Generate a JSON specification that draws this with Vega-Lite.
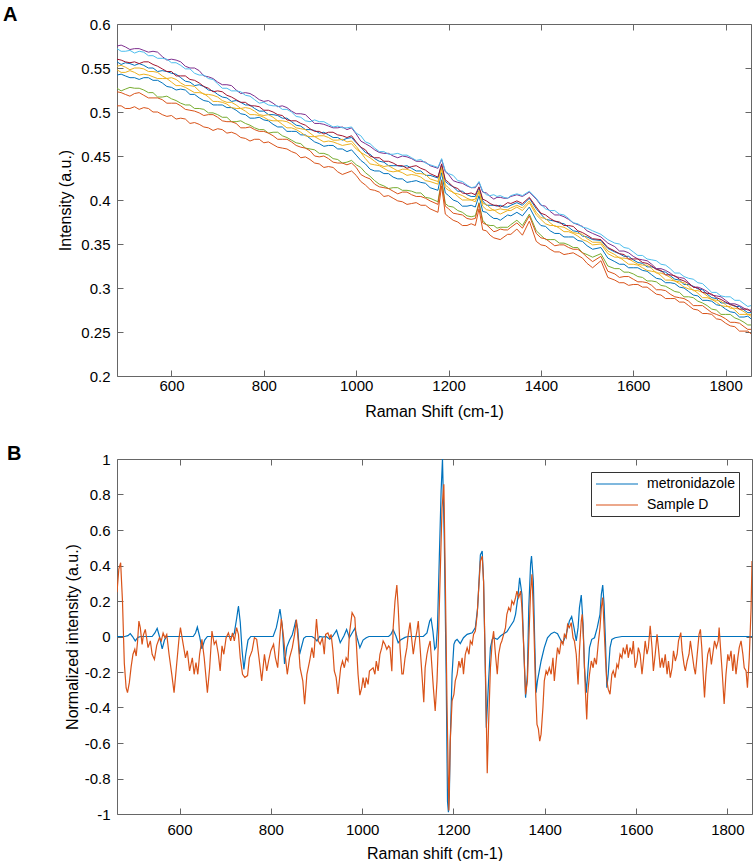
{
  "$schema": "https://vega.github.io/schema/vega-lite/v6.json",
  "padding": {"left": 3, "top": 5, "right": 0, "bottom": 0},
  "columns": 1,
  "align": "none",
  "spacing": 25,
  "resolve": {"scale": {"color": "independent"}, "legend": {"color": "independent"}},
  "config": {
    "view": {"stroke": null},
    "font": "Liberation Sans",
    "axis": {
      "grid": false,
      "domainColor": "#666666",
      "tickColor": "#666666",
      "domainWidth": 1,
      "tickWidth": 1,
      "tickSize": -6,
      "labelFont": "Liberation Sans",
      "titleFont": "Liberation Sans",
      "labelFontSize": 15,
      "titleFontSize": 16,
      "titleFontWeight": "normal",
      "labelColor": "#000000",
      "titleColor": "#000000",
      "labelOverlap": false,
      "labelFlush": false,
      "labelBound": false
    }
  },
  "datasets": {
    "a": [
      {"x":482,"p":0.575,"lb":0.572,"dr":0.560,"b1":0.557,"y1":0.552,"y2":0.548,"b2":0.542,"g":0.527,"o1":0.523,"o2":0.507},
      {"x":491,"p":0.576,"lb":0.569,"dr":0.559,"b1":0.554,"y1":0.553,"y2":0.545,"b2":0.543,"g":0.524,"o1":0.522,"o2":0.507},
      {"x":500,"p":0.574,"lb":0.569,"dr":0.557,"b1":0.556,"y1":0.551,"y2":0.545,"b2":0.541,"g":0.526,"o1":0.520,"o2":0.504},
      {"x":510,"p":0.571,"lb":0.570,"dr":0.556,"b1":0.555,"y1":0.548,"y2":0.547,"b2":0.539,"g":0.528,"o1":0.518,"o2":0.504},
      {"x":520,"p":0.572,"lb":0.567,"dr":0.557,"b1":0.553,"y1":0.550,"y2":0.545,"b2":0.539,"g":0.527,"o1":0.521,"o2":0.506},
      {"x":530,"p":0.572,"lb":0.569,"dr":0.555,"b1":0.555,"y1":0.550,"y2":0.542,"b2":0.537,"g":0.527,"o1":0.522,"o2":0.503},
      {"x":540,"p":0.570,"lb":0.568,"dr":0.557,"b1":0.553,"y1":0.549,"y2":0.543,"b2":0.539,"g":0.525,"o1":0.519,"o2":0.505},
      {"x":550,"p":0.568,"lb":0.564,"dr":0.557,"b1":0.550,"y1":0.546,"y2":0.542,"b2":0.539,"g":0.522,"o1":0.516,"o2":0.504},
      {"x":560,"p":0.569,"lb":0.564,"dr":0.554,"b1":0.550,"y1":0.546,"y2":0.540,"b2":0.536,"g":0.522,"o1":0.516,"o2":0.500},
      {"x":570,"p":0.568,"lb":0.561,"dr":0.552,"b1":0.546,"y1":0.545,"y2":0.538,"b2":0.536,"g":0.517,"o1":0.516,"o2":0.500},
      {"x":580,"p":0.563,"lb":0.561,"dr":0.549,"b1":0.547,"y1":0.541,"y2":0.538,"b2":0.533,"g":0.517,"o1":0.514,"o2":0.497},
      {"x":590,"p":0.559,"lb":0.560,"dr":0.546,"b1":0.546,"y1":0.538,"y2":0.538,"b2":0.529,"g":0.518,"o1":0.510,"o2":0.495},
      {"x":600,"p":0.560,"lb":0.556,"dr":0.546,"b1":0.544,"y1":0.539,"y2":0.534,"b2":0.528,"g":0.515,"o1":0.510,"o2":0.496},
      {"x":610,"p":0.559,"lb":0.556,"dr":0.541,"b1":0.543,"y1":0.537,"y2":0.530,"b2":0.525,"g":0.513,"o1":0.510,"o2":0.492},
      {"x":620,"p":0.557,"lb":0.553,"dr":0.541,"b1":0.539,"y1":0.533,"y2":0.530,"b2":0.526,"g":0.510,"o1":0.507,"o2":0.493},
      {"x":630,"p":0.552,"lb":0.549,"dr":0.541,"b1":0.535,"y1":0.530,"y2":0.528,"b2":0.525,"g":0.508,"o1":0.503,"o2":0.492},
      {"x":640,"p":0.550,"lb":0.549,"dr":0.537,"b1":0.534,"y1":0.530,"y2":0.525,"b2":0.520,"g":0.508,"o1":0.502,"o2":0.487},
      {"x":650,"p":0.550,"lb":0.544,"dr":0.536,"b1":0.530,"y1":0.529,"y2":0.522,"b2":0.520,"g":0.504,"o1":0.501,"o2":0.488},
      {"x":660,"p":0.547,"lb":0.542,"dr":0.533,"b1":0.531,"y1":0.524,"y2":0.522,"b2":0.516,"g":0.504,"o1":0.499,"o2":0.486},
      {"x":670,"p":0.541,"lb":0.542,"dr":0.529,"b1":0.529,"y1":0.520,"y2":0.521,"b2":0.513,"g":0.503,"o1":0.496,"o2":0.483},
      {"x":680,"p":0.540,"lb":0.538,"dr":0.527,"b1":0.525,"y1":0.520,"y2":0.517,"b2":0.512,"g":0.499,"o1":0.497,"o2":0.482},
      {"x":690,"p":0.538,"lb":0.537,"dr":0.523,"b1":0.524,"y1":0.519,"y2":0.512,"b2":0.508,"g":0.499,"o1":0.497,"o2":0.479},
      {"x":700,"p":0.534,"lb":0.532,"dr":0.524,"b1":0.520,"y1":0.517,"y2":0.512,"b2":0.508,"g":0.497,"o1":0.494,"o2":0.481},
      {"x":710,"p":0.531,"lb":0.527,"dr":0.523,"b1":0.517,"y1":0.513,"y2":0.511,"b2":0.508,"g":0.494,"o1":0.490,"o2":0.480},
      {"x":720,"p":0.531,"lb":0.527,"dr":0.519,"b1":0.516,"y1":0.511,"y2":0.509,"b2":0.505,"g":0.494,"o1":0.489,"o2":0.476},
      {"x":730,"p":0.530,"lb":0.524,"dr":0.517,"b1":0.512,"y1":0.511,"y2":0.505,"b2":0.505,"g":0.489,"o1":0.489,"o2":0.477},
      {"x":740,"p":0.525,"lb":0.524,"dr":0.514,"b1":0.513,"y1":0.508,"y2":0.504,"b2":0.502,"g":0.489,"o1":0.487,"o2":0.475},
      {"x":750,"p":0.521,"lb":0.523,"dr":0.511,"b1":0.511,"y1":0.504,"y2":0.504,"b2":0.498,"g":0.490,"o1":0.482,"o2":0.471},
      {"x":760,"p":0.522,"lb":0.519,"dr":0.511,"b1":0.508,"y1":0.505,"y2":0.501,"b2":0.497,"g":0.487,"o1":0.482,"o2":0.470},
      {"x":770,"p":0.521,"lb":0.518,"dr":0.507,"b1":0.508,"y1":0.504,"y2":0.497,"b2":0.493,"g":0.485,"o1":0.483,"o2":0.467},
      {"x":780,"p":0.518,"lb":0.514,"dr":0.507,"b1":0.504,"y1":0.501,"y2":0.497,"b2":0.493,"g":0.482,"o1":0.480,"o2":0.469},
      {"x":790,"p":0.514,"lb":0.510,"dr":0.506,"b1":0.501,"y1":0.497,"y2":0.496,"b2":0.494,"g":0.480,"o1":0.478,"o2":0.469},
      {"x":800,"p":0.512,"lb":0.511,"dr":0.502,"b1":0.501,"y1":0.496,"y2":0.494,"b2":0.491,"g":0.480,"o1":0.478,"o2":0.465},
      {"x":810,"p":0.513,"lb":0.508,"dr":0.502,"b1":0.497,"y1":0.497,"y2":0.491,"b2":0.490,"g":0.476,"o1":0.476,"o2":0.466},
      {"x":820,"p":0.510,"lb":0.507,"dr":0.500,"b1":0.497,"y1":0.494,"y2":0.490,"b2":0.486,"g":0.477,"o1":0.473,"o2":0.463},
      {"x":830,"p":0.506,"lb":0.507,"dr":0.497,"b1":0.496,"y1":0.490,"y2":0.490,"b2":0.483,"g":0.477,"o1":0.469,"o2":0.460},
      {"x":840,"p":0.507,"lb":0.503,"dr":0.496,"b1":0.493,"y1":0.490,"y2":0.486,"b2":0.483,"g":0.473,"o1":0.469,"o2":0.459},
      {"x":850,"p":0.505,"lb":0.503,"dr":0.491,"b1":0.493,"y1":0.489,"y2":0.482,"b2":0.478,"g":0.471,"o1":0.469,"o2":0.458},
      {"x":860,"p":0.501,"lb":0.500,"dr":0.490,"b1":0.489,"y1":0.486,"y2":0.482,"b2":0.478,"g":0.468,"o1":0.466,"o2":0.455},
      {"x":870,"p":0.498,"lb":0.495,"dr":0.490,"b1":0.485,"y1":0.482,"y2":0.480,"b2":0.478,"g":0.465,"o1":0.462,"o2":0.453},
      {"x":880,"p":0.498,"lb":0.494,"dr":0.487,"b1":0.484,"y1":0.481,"y2":0.477,"b2":0.474,"g":0.464,"o1":0.460,"o2":0.448},
      {"x":890,"p":0.497,"lb":0.490,"dr":0.485,"b1":0.480,"y1":0.480,"y2":0.473,"b2":0.474,"g":0.459,"o1":0.459,"o2":0.449},
      {"x":900,"p":0.492,"lb":0.489,"dr":0.481,"b1":0.480,"y1":0.476,"y2":0.472,"b2":0.470,"g":0.458,"o1":0.456,"o2":0.446},
      {"x":910,"p":0.487,"lb":0.491,"dr":0.478,"b1":0.479,"y1":0.472,"y2":0.472,"b2":0.466,"g":0.457,"o1":0.450,"o2":0.442},
      {"x":920,"p":0.487,"lb":0.489,"dr":0.478,"b1":0.476,"y1":0.473,"y2":0.469,"b2":0.464,"g":0.453,"o1":0.449,"o2":0.441},
      {"x":930,"p":0.486,"lb":0.489,"dr":0.475,"b1":0.477,"y1":0.473,"y2":0.466,"b2":0.461,"g":0.453,"o1":0.450,"o2":0.437},
      {"x":940,"p":0.484,"lb":0.486,"dr":0.477,"b1":0.474,"y1":0.471,"y2":0.467,"b2":0.462,"g":0.451,"o1":0.447,"o2":0.438},
      {"x":950,"p":0.482,"lb":0.483,"dr":0.477,"b1":0.471,"y1":0.468,"y2":0.466,"b2":0.462,"g":0.447,"o1":0.443,"o2":0.437},
      {"x":960,"p":0.482,"lb":0.484,"dr":0.474,"b1":0.471,"y1":0.468,"y2":0.464,"b2":0.458,"g":0.446,"o1":0.442,"o2":0.432},
      {"x":970,"p":0.483,"lb":0.482,"dr":0.473,"b1":0.468,"y1":0.469,"y2":0.462,"b2":0.458,"g":0.442,"o1":0.442,"o2":0.429},
      {"x":980,"p":0.480,"lb":0.482,"dr":0.471,"b1":0.470,"y1":0.466,"y2":0.463,"b2":0.455,"g":0.443,"o1":0.440,"o2":0.431},
      {"x":990,"p":0.482,"lb":0.483,"dr":0.473,"b1":0.471,"y1":0.467,"y2":0.464,"b2":0.457,"g":0.445,"o1":0.442,"o2":0.433},
      {"x":1000,"p":0.475,"lb":0.476,"dr":0.466,"b1":0.465,"y1":0.461,"y2":0.458,"b2":0.451,"g":0.440,"o1":0.437,"o2":0.428},
      {"x":1010,"p":0.467,"lb":0.473,"dr":0.460,"b1":0.460,"y1":0.454,"y2":0.454,"b2":0.445,"g":0.437,"o1":0.429,"o2":0.421},
      {"x":1020,"p":0.464,"lb":0.466,"dr":0.457,"b1":0.454,"y1":0.451,"y2":0.447,"b2":0.441,"g":0.431,"o1":0.426,"o2":0.417},
      {"x":1030,"p":0.461,"lb":0.464,"dr":0.450,"b1":0.452,"y1":0.448,"y2":0.441,"b2":0.435,"g":0.427,"o1":0.424,"o2":0.412},
      {"x":1040,"p":0.457,"lb":0.459,"dr":0.448,"b1":0.447,"y1":0.444,"y2":0.440,"b2":0.433,"g":0.422,"o1":0.418,"o2":0.411},
      {"x":1050,"p":0.454,"lb":0.455,"dr":0.448,"b1":0.444,"y1":0.440,"y2":0.439,"b2":0.433,"g":0.418,"o1":0.415,"o2":0.409},
      {"x":1060,"p":0.453,"lb":0.455,"dr":0.444,"b1":0.443,"y1":0.438,"y2":0.436,"b2":0.430,"g":0.416,"o1":0.414,"o2":0.404},
      {"x":1070,"p":0.453,"lb":0.452,"dr":0.444,"b1":0.439,"y1":0.439,"y2":0.433,"b2":0.430,"g":0.413,"o1":0.413,"o2":0.405},
      {"x":1080,"p":0.450,"lb":0.452,"dr":0.442,"b1":0.439,"y1":0.436,"y2":0.432,"b2":0.426,"g":0.414,"o1":0.410,"o2":0.402},
      {"x":1090,"p":0.448,"lb":0.453,"dr":0.439,"b1":0.439,"y1":0.433,"y2":0.433,"b2":0.424,"g":0.414,"o1":0.407,"o2":0.399},
      {"x":1100,"p":0.450,"lb":0.451,"dr":0.439,"b1":0.438,"y1":0.435,"y2":0.431,"b2":0.424,"g":0.411,"o1":0.409,"o2":0.398},
      {"x":1110,"p":0.449,"lb":0.451,"dr":0.436,"b1":0.439,"y1":0.435,"y2":0.428,"b2":0.420,"g":0.411,"o1":0.409,"o2":0.395},
      {"x":1120,"p":0.447,"lb":0.448,"dr":0.438,"b1":0.436,"y1":0.433,"y2":0.429,"b2":0.421,"g":0.410,"o1":0.406,"o2":0.396},
      {"x":1130,"p":0.444,"lb":0.445,"dr":0.439,"b1":0.433,"y1":0.430,"y2":0.428,"b2":0.422,"g":0.408,"o1":0.404,"o2":0.397},
      {"x":1140,"p":0.444,"lb":0.446,"dr":0.436,"b1":0.433,"y1":0.430,"y2":0.426,"b2":0.420,"g":0.408,"o1":0.404,"o2":0.394},
      {"x":1150,"p":0.443,"lb":0.442,"dr":0.434,"b1":0.428,"y1":0.429,"y2":0.422,"b2":0.419,"g":0.403,"o1":0.402,"o2":0.394},
      {"x":1160,"p":0.439,"lb":0.440,"dr":0.430,"b1":0.428,"y1":0.424,"y2":0.421,"b2":0.414,"g":0.402,"o1":0.399,"o2":0.390},
      {"x":1177,"p":0.436,"lb":0.437,"dr":0.426,"b1":0.425,"y1":0.421,"y2":0.418,"b2":0.411,"g":0.398,"o1":0.395,"o2":0.386},
      {"x":1185,"p":0.446,"lb":0.447,"dr":0.441,"b1":0.440,"y1":0.437,"y2":0.435,"b2":0.431,"g":0.423,"o1":0.422,"o2":0.416},
      {"x":1193,"p":0.432,"lb":0.433,"dr":0.423,"b1":0.421,"y1":0.417,"y2":0.414,"b2":0.408,"g":0.396,"o1":0.393,"o2":0.384},
      {"x":1200,"p":0.429,"lb":0.430,"dr":0.420,"b1":0.418,"y1":0.414,"y2":0.411,"b2":0.405,"g":0.393,"o1":0.390,"o2":0.381},
      {"x":1210,"p":0.422,"lb":0.428,"dr":0.415,"b1":0.415,"y1":0.408,"y2":0.409,"b2":0.400,"g":0.392,"o1":0.385,"o2":0.377},
      {"x":1220,"p":0.420,"lb":0.422,"dr":0.413,"b1":0.410,"y1":0.407,"y2":0.404,"b2":0.398,"g":0.388,"o1":0.384,"o2":0.375},
      {"x":1230,"p":0.419,"lb":0.421,"dr":0.408,"b1":0.410,"y1":0.405,"y2":0.400,"b2":0.393,"g":0.386,"o1":0.383,"o2":0.371},
      {"x":1240,"p":0.416,"lb":0.417,"dr":0.407,"b1":0.406,"y1":0.402,"y2":0.400,"b2":0.393,"g":0.382,"o1":0.379,"o2":0.371},
      {"x":1249,"p":0.414,"lb":0.414,"dr":0.408,"b1":0.404,"y1":0.400,"y2":0.400,"b2":0.394,"g":0.381,"o1":0.378,"o2":0.373},
      {"x":1258,"p":0.414,"lb":0.415,"dr":0.406,"b1":0.404,"y1":0.401,"y2":0.398,"b2":0.392,"g":0.382,"o1":0.379,"o2":0.371},
      {"x":1266,"p":0.420,"lb":0.421,"dr":0.415,"b1":0.414,"y1":0.411,"y2":0.409,"b2":0.405,"g":0.397,"o1":0.396,"o2":0.390},
      {"x":1274,"p":0.409,"lb":0.410,"dr":0.401,"b1":0.399,"y1":0.396,"y2":0.393,"b2":0.387,"g":0.377,"o1":0.374,"o2":0.366},
      {"x":1282,"p":0.408,"lb":0.406,"dr":0.399,"b1":0.394,"y1":0.395,"y2":0.389,"b2":0.386,"g":0.372,"o1":0.372,"o2":0.365},
      {"x":1290,"p":0.404,"lb":0.405,"dr":0.396,"b1":0.394,"y1":0.391,"y2":0.388,"b2":0.382,"g":0.371,"o1":0.368,"o2":0.360},
      {"x":1298,"p":0.401,"lb":0.406,"dr":0.394,"b1":0.394,"y1":0.388,"y2":0.389,"b2":0.379,"g":0.371,"o1":0.364,"o2":0.357},
      {"x":1305,"p":0.403,"lb":0.404,"dr":0.394,"b1":0.393,"y1":0.389,"y2":0.386,"b2":0.379,"g":0.368,"o1":0.365,"o2":0.356},
      {"x":1312,"p":0.403,"lb":0.405,"dr":0.392,"b1":0.394,"y1":0.390,"y2":0.384,"b2":0.377,"g":0.369,"o1":0.367,"o2":0.355},
      {"x":1320,"p":0.402,"lb":0.403,"dr":0.394,"b1":0.392,"y1":0.389,"y2":0.386,"b2":0.380,"g":0.369,"o1":0.366,"o2":0.358},
      {"x":1328,"p":0.402,"lb":0.402,"dr":0.397,"b1":0.392,"y1":0.389,"y2":0.388,"b2":0.383,"g":0.369,"o1":0.366,"o2":0.361},
      {"x":1335,"p":0.404,"lb":0.405,"dr":0.396,"b1":0.394,"y1":0.391,"y2":0.388,"b2":0.382,"g":0.372,"o1":0.369,"o2":0.361},
      {"x":1348,"p":0.406,"lb":0.407,"dr":0.399,"b1":0.397,"y1":0.394,"y2":0.392,"b2":0.386,"g":0.377,"o1":0.374,"o2":0.367},
      {"x":1360,"p":0.404,"lb":0.405,"dr":0.396,"b1":0.394,"y1":0.391,"y2":0.388,"b2":0.382,"g":0.371,"o1":0.368,"o2":0.360},
      {"x":1375,"p":0.409,"lb":0.410,"dr":0.403,"b1":0.402,"y1":0.399,"y2":0.397,"b2":0.392,"g":0.384,"o1":0.382,"o2":0.376},
      {"x":1390,"p":0.401,"lb":0.402,"dr":0.392,"b1":0.390,"y1":0.386,"y2":0.383,"b2":0.377,"g":0.365,"o1":0.362,"o2":0.353},
      {"x":1400,"p":0.394,"lb":0.395,"dr":0.385,"b1":0.384,"y1":0.380,"y2":0.378,"b2":0.371,"g":0.360,"o1":0.357,"o2":0.349},
      {"x":1410,"p":0.393,"lb":0.390,"dr":0.383,"b1":0.378,"y1":0.379,"y2":0.373,"b2":0.370,"g":0.355,"o1":0.356,"o2":0.348},
      {"x":1420,"p":0.387,"lb":0.388,"dr":0.379,"b1":0.377,"y1":0.374,"y2":0.371,"b2":0.365,"g":0.355,"o1":0.352,"o2":0.344},
      {"x":1430,"p":0.383,"lb":0.388,"dr":0.376,"b1":0.376,"y1":0.370,"y2":0.371,"b2":0.362,"g":0.355,"o1":0.348,"o2":0.341},
      {"x":1440,"p":0.383,"lb":0.384,"dr":0.375,"b1":0.374,"y1":0.370,"y2":0.368,"b2":0.362,"g":0.351,"o1":0.349,"o2":0.341},
      {"x":1450,"p":0.381,"lb":0.383,"dr":0.371,"b1":0.373,"y1":0.369,"y2":0.364,"b2":0.358,"g":0.351,"o1":0.349,"o2":0.338},
      {"x":1460,"p":0.378,"lb":0.379,"dr":0.371,"b1":0.369,"y1":0.366,"y2":0.364,"b2":0.358,"g":0.349,"o1":0.346,"o2":0.339},
      {"x":1470,"p":0.374,"lb":0.374,"dr":0.370,"b1":0.365,"y1":0.363,"y2":0.362,"b2":0.358,"g":0.346,"o1":0.344,"o2":0.340},
      {"x":1480,"p":0.372,"lb":0.373,"dr":0.365,"b1":0.364,"y1":0.362,"y2":0.359,"b2":0.354,"g":0.346,"o1":0.344,"o2":0.337},
      {"x":1490,"p":0.370,"lb":0.369,"dr":0.363,"b1":0.359,"y1":0.361,"y2":0.355,"b2":0.353,"g":0.340,"o1":0.340,"o2":0.334},
      {"x":1500,"p":0.365,"lb":0.368,"dr":0.360,"b1":0.358,"y1":0.356,"y2":0.353,"b2":0.348,"g":0.338,"o1":0.335,"o2":0.328},
      {"x":1512,"p":0.362,"lb":0.365,"dr":0.356,"b1":0.355,"y1":0.352,"y2":0.349,"b2":0.344,"g":0.335,"o1":0.330,"o2":0.323},
      {"x":1530,"p":0.358,"lb":0.361,"dr":0.355,"b1":0.354,"y1":0.352,"y2":0.350,"b2":0.346,"g":0.339,"o1":0.336,"o2":0.331},
      {"x":1545,"p":0.351,"lb":0.355,"dr":0.346,"b1":0.345,"y1":0.342,"y2":0.339,"b2":0.334,"g":0.325,"o1":0.319,"o2":0.312},
      {"x":1560,"p":0.347,"lb":0.351,"dr":0.342,"b1":0.341,"y1":0.338,"y2":0.335,"b2":0.330,"g":0.322,"o1":0.316,"o2":0.309},
      {"x":1570,"p":0.342,"lb":0.350,"dr":0.339,"b1":0.339,"y1":0.334,"y2":0.335,"b2":0.327,"g":0.322,"o1":0.312,"o2":0.306},
      {"x":1580,"p":0.342,"lb":0.346,"dr":0.338,"b1":0.336,"y1":0.334,"y2":0.331,"b2":0.327,"g":0.318,"o1":0.313,"o2":0.306},
      {"x":1590,"p":0.340,"lb":0.345,"dr":0.333,"b1":0.336,"y1":0.333,"y2":0.327,"b2":0.323,"g":0.318,"o1":0.313,"o2":0.303},
      {"x":1600,"p":0.336,"lb":0.341,"dr":0.333,"b1":0.332,"y1":0.330,"y2":0.327,"b2":0.323,"g":0.316,"o1":0.310,"o2":0.304},
      {"x":1610,"p":0.333,"lb":0.337,"dr":0.333,"b1":0.329,"y1":0.327,"y2":0.326,"b2":0.323,"g":0.313,"o1":0.307,"o2":0.304},
      {"x":1620,"p":0.332,"lb":0.337,"dr":0.329,"b1":0.328,"y1":0.326,"y2":0.323,"b2":0.320,"g":0.312,"o1":0.307,"o2":0.301},
      {"x":1630,"p":0.331,"lb":0.333,"dr":0.328,"b1":0.324,"y1":0.326,"y2":0.320,"b2":0.319,"g":0.308,"o1":0.306,"o2":0.301},
      {"x":1640,"p":0.327,"lb":0.332,"dr":0.325,"b1":0.324,"y1":0.322,"y2":0.319,"b2":0.315,"g":0.308,"o1":0.303,"o2":0.297},
      {"x":1650,"p":0.322,"lb":0.331,"dr":0.321,"b1":0.322,"y1":0.317,"y2":0.318,"b2":0.311,"g":0.307,"o1":0.298,"o2":0.293},
      {"x":1660,"p":0.322,"lb":0.327,"dr":0.320,"b1":0.319,"y1":0.317,"y2":0.314,"b2":0.310,"g":0.303,"o1":0.298,"o2":0.292},
      {"x":1670,"p":0.320,"lb":0.326,"dr":0.315,"b1":0.318,"y1":0.315,"y2":0.309,"b2":0.306,"g":0.302,"o1":0.297,"o2":0.288},
      {"x":1680,"p":0.317,"lb":0.322,"dr":0.315,"b1":0.314,"y1":0.312,"y2":0.309,"b2":0.306,"g":0.299,"o1":0.293,"o2":0.288},
      {"x":1690,"p":0.313,"lb":0.317,"dr":0.314,"b1":0.310,"y1":0.308,"y2":0.308,"b2":0.305,"g":0.296,"o1":0.290,"o2":0.288},
      {"x":1700,"p":0.312,"lb":0.317,"dr":0.310,"b1":0.309,"y1":0.307,"y2":0.305,"b2":0.301,"g":0.295,"o1":0.289,"o2":0.284},
      {"x":1710,"p":0.311,"lb":0.313,"dr":0.308,"b1":0.304,"y1":0.306,"y2":0.301,"b2":0.300,"g":0.290,"o1":0.288,"o2":0.284},
      {"x":1720,"p":0.306,"lb":0.311,"dr":0.305,"b1":0.304,"y1":0.302,"y2":0.299,"b2":0.296,"g":0.290,"o1":0.285,"o2":0.280},
      {"x":1730,"p":0.301,"lb":0.310,"dr":0.301,"b1":0.302,"y1":0.297,"y2":0.298,"b2":0.292,"g":0.289,"o1":0.280,"o2":0.276},
      {"x":1740,"p":0.301,"lb":0.306,"dr":0.300,"b1":0.299,"y1":0.297,"y2":0.294,"b2":0.291,"g":0.285,"o1":0.280,"o2":0.275},
      {"x":1750,"p":0.299,"lb":0.305,"dr":0.295,"b1":0.298,"y1":0.295,"y2":0.289,"b2":0.286,"g":0.283,"o1":0.280,"o2":0.271},
      {"x":1760,"p":0.296,"lb":0.300,"dr":0.294,"b1":0.293,"y1":0.291,"y2":0.289,"b2":0.286,"g":0.280,"o1":0.276,"o2":0.271},
      {"x":1770,"p":0.292,"lb":0.295,"dr":0.293,"b1":0.289,"y1":0.287,"y2":0.287,"b2":0.285,"g":0.276,"o1":0.272,"o2":0.270},
      {"x":1780,"p":0.291,"lb":0.295,"dr":0.289,"b1":0.288,"y1":0.286,"y2":0.284,"b2":0.281,"g":0.275,"o1":0.270,"o2":0.265},
      {"x":1790,"p":0.290,"lb":0.291,"dr":0.287,"b1":0.283,"y1":0.285,"y2":0.280,"b2":0.280,"g":0.270,"o1":0.268,"o2":0.264},
      {"x":1800,"p":0.286,"lb":0.290,"dr":0.284,"b1":0.283,"y1":0.281,"y2":0.279,"b2":0.276,"g":0.270,"o1":0.265,"o2":0.260},
      {"x":1810,"p":0.282,"lb":0.290,"dr":0.281,"b1":0.282,"y1":0.277,"y2":0.279,"b2":0.273,"g":0.270,"o1":0.261,"o2":0.257},
      {"x":1820,"p":0.282,"lb":0.286,"dr":0.280,"b1":0.279,"y1":0.277,"y2":0.275,"b2":0.272,"g":0.266,"o1":0.261,"o2":0.256},
      {"x":1830,"p":0.280,"lb":0.286,"dr":0.276,"b1":0.279,"y1":0.276,"y2":0.270,"b2":0.267,"g":0.264,"o1":0.260,"o2":0.251},
      {"x":1840,"p":0.277,"lb":0.282,"dr":0.276,"b1":0.275,"y1":0.273,"y2":0.270,"b2":0.267,"g":0.261,"o1":0.256,"o2":0.251},
      {"x":1848,"p":0.275,"lb":0.279,"dr":0.276,"b1":0.272,"y1":0.270,"y2":0.270,"b2":0.268,"g":0.258,"o1":0.253,"o2":0.251},
      {"x":1855,"p":0.275,"lb":0.280,"dr":0.273,"b1":0.272,"y1":0.270,"y2":0.268,"b2":0.265,"g":0.258,"o1":0.253,"o2":0.248}
    ],
    "metro": [
      {"x":463,"y":0},{"x":480,"y":0},{"x":487,"y":0.005},{"x":492,"y":0.016},{"x":497,"y":0},{"x":503,"y":-0.025},{"x":509,"y":-0.005},{"x":515,"y":0},
      {"x":540,"y":0},{"x":546,"y":0.02},{"x":551,"y":0.046},{"x":556,"y":0},{"x":562,"y":-0.07},{"x":567,"y":-0.02},{"x":572,"y":0},
      {"x":630,"y":0},{"x":635,"y":0.02},{"x":639,"y":0.053},{"x":644,"y":0},{"x":649,"y":-0.07},{"x":655,"y":-0.02},{"x":661,"y":0},
      {"x":715,"y":0},{"x":720,"y":0.02},{"x":725,"y":0.1},{"x":729,"y":0.172},{"x":733,"y":0.08},{"x":737,"y":-0.08},{"x":741,"y":-0.185},{"x":745,"y":-0.1},{"x":750,"y":-0.02},{"x":756,"y":0},
      {"x":805,"y":0},{"x":812,"y":0.05},{"x":816,"y":0.1},{"x":820,"y":0.155},{"x":825,"y":0.06},{"x":830,"y":-0.155},{"x":835,"y":-0.06},{"x":841,"y":-0.02},{"x":847,"y":0.01},{"x":851,"y":0.05},{"x":855,"y":0.093},{"x":859,"y":0.04},{"x":863,"y":-0.1},{"x":867,"y":-0.06},{"x":872,"y":-0.01},{"x":877,"y":0},
      {"x":890,"y":0},{"x":896,"y":-0.01},{"x":901,"y":-0.025},{"x":907,"y":0},{"x":914,"y":-0.003},{"x":921,"y":0},{"x":929,"y":-0.015},{"x":936,"y":0.003},{"x":944,"y":0.035},{"x":952,"y":-0.035},{"x":960,"y":0.003},{"x":966,"y":0.04},{"x":972,"y":-0.007},{"x":978,"y":0.02},{"x":984,"y":0.046},{"x":989,"y":-0.007},{"x":995,"y":-0.063},{"x":1002,"y":-0.02},{"x":1009,"y":-0.007},{"x":1015,"y":0},
      {"x":1058,"y":0},{"x":1063,"y":0.012},{"x":1068,"y":0.038},{"x":1074,"y":0.003},{"x":1079,"y":-0.035},{"x":1084,"y":-0.02},{"x":1094,"y":-0.005},{"x":1100,"y":0},
      {"x":1134,"y":0},{"x":1142,"y":0.02},{"x":1148,"y":0.087},{"x":1151,"y":0.1},{"x":1155,"y":0.03},{"x":1159,"y":-0.072},{"x":1162,"y":-0.06},{"x":1165,"y":0.05},{"x":1169,"y":0.44},{"x":1173,"y":0.82},{"x":1176,"y":1.0},{"x":1180,"y":0.54},{"x":1184,"y":-0.21},{"x":1187,"y":-0.93},{"x":1189,"y":-0.99},{"x":1191,"y":-0.9},{"x":1193,"y":-0.59},{"x":1197,"y":-0.213},{"x":1201,"y":-0.044},{"x":1204,"y":-0.025},{"x":1208,"y":-0.016},{"x":1215,"y":-0.04},{"x":1222,"y":-0.007},{"x":1230,"y":0.012},{"x":1241,"y":0.021},{"x":1248,"y":0.05},{"x":1253,"y":0.162},{"x":1259,"y":0.46},{"x":1263,"y":0.482},{"x":1266,"y":0.31},{"x":1270,"y":-0.21},{"x":1272,"y":-0.514},{"x":1277,"y":-0.25},{"x":1281,"y":-0.063},{"x":1285,"y":-0.016},{"x":1288,"y":-0.007},{"x":1296,"y":-0.016},{"x":1303,"y":0.003},{"x":1310,"y":0.016},{"x":1317,"y":0.027},{"x":1325,"y":0.059},{"x":1332,"y":0.087},{"x":1336,"y":0.125},{"x":1341,"y":0.219},{"x":1345,"y":0.331},{"x":1350,"y":0.238},{"x":1354,"y":-0.063},{"x":1358,"y":-0.345},{"x":1362,"y":-0.213},{"x":1365,"y":0.163},{"x":1369,"y":0.407},{"x":1371,"y":0.453},{"x":1375,"y":0.313},{"x":1378,"y":-0.025},{"x":1381,"y":-0.316},{"x":1384,"y":-0.25},{"x":1392,"y":-0.138},{"x":1399,"y":-0.063},{"x":1406,"y":-0.007},{"x":1414,"y":0.016},{"x":1421,"y":0.025},{"x":1428,"y":0.016},{"x":1436,"y":-0.025},{"x":1440,"y":-0.035},{"x":1447,"y":0.012},{"x":1454,"y":0.087},{"x":1459,"y":0.112},{"x":1464,"y":0.05},{"x":1469,"y":-0.025},{"x":1473,"y":0.05},{"x":1476,"y":0.163},{"x":1480,"y":0.234},{"x":1484,"y":0.069},{"x":1487,"y":-0.176},{"x":1491,"y":-0.316},{"x":1494,"y":-0.213},{"x":1498,"y":-0.063},{"x":1503,"y":-0.016},{"x":1509,"y":-0.007},{"x":1515,"y":0.05},{"x":1521,"y":0.125},{"x":1524,"y":0.238},{"x":1527,"y":0.29},{"x":1530,"y":0.181},{"x":1533,"y":-0.025},{"x":1536,"y":-0.288},{"x":1539,"y":-0.213},{"x":1543,"y":-0.063},{"x":1547,"y":-0.016},{"x":1554,"y":-0.007},{"x":1569,"y":0},{"x":1854,"y":0}
    ],
    "sampled": [
      {"x":463,"y":0.25},{"x":467,"y":0.38},{"x":471,"y":0.416},{"x":475,"y":0.2},{"x":479,"y":-0.15},{"x":483,"y":-0.29},{"x":486,"y":-0.316},{"x":490,"y":-0.26},{"x":494,"y":-0.17},{"x":498,"y":-0.1},{"x":502,"y":-0.072},{"x":505,"y":-0.11},{"x":508,"y":-0.03},{"x":511,"y":0.087},{"x":514,"y":0.05},{"x":518,"y":-0.044},{"x":521,"y":0.01},{"x":525,"y":0.04},{"x":528,"y":-0.01},{"x":531,"y":-0.063},{"x":536,"y":-0.025},{"x":540,"y":-0.1},{"x":545,"y":-0.129},{"x":550,"y":-0.05},{"x":556,"y":-0.007},{"x":560,"y":-0.025},{"x":564,"y":0.02},{"x":568,"y":-0.007},{"x":572,"y":0.012},{"x":577,"y":-0.1},{"x":583,"y":-0.213},{"x":588,"y":-0.316},{"x":593,"y":-0.176},{"x":599,"y":-0.007},{"x":602,"y":0.05},{"x":608,"y":-0.044},{"x":613,"y":-0.12},{"x":617,"y":-0.08},{"x":622,"y":-0.194},{"x":628,"y":-0.12},{"x":632,"y":-0.213},{"x":636,"y":-0.147},{"x":640,"y":-0.213},{"x":644,"y":-0.1},{"x":649,"y":-0.016},{"x":654,"y":-0.12},{"x":661,"y":-0.316},{"x":666,"y":-0.176},{"x":671,"y":0.031},{"x":676,"y":-0.044},{"x":680,"y":-0.025},{"x":685,"y":-0.1},{"x":689,"y":-0.194},{"x":693,"y":-0.053},{"x":697,"y":-0.1},{"x":702,"y":-0.007},{"x":707,"y":0.02},{"x":712,"y":-0.025},{"x":716,"y":0.02},{"x":720,"y":-0.025},{"x":725,"y":0.05},{"x":729,"y":0.012},{"x":733,"y":-0.12},{"x":738,"y":-0.213},{"x":743,"y":-0.23},{"x":749,"y":-0.22},{"x":753,"y":-0.12},{"x":759,"y":-0.08},{"x":764,"y":-0.007},{"x":769,"y":-0.016},{"x":774,"y":-0.12},{"x":780,"y":-0.25},{"x":786,"y":-0.1},{"x":791,"y":-0.194},{"x":795,"y":-0.138},{"x":800,"y":-0.08},{"x":806,"y":-0.044},{"x":810,"y":-0.12},{"x":815,"y":-0.176},{"x":819,"y":-0.025},{"x":823,"y":0.1},{"x":828,"y":-0.007},{"x":832,"y":-0.119},{"x":836,"y":-0.213},{"x":841,"y":-0.12},{"x":847,"y":-0.063},{"x":852,"y":0.012},{"x":856,"y":0.095},{"x":860,"y":-0.025},{"x":864,"y":-0.176},{"x":870,"y":-0.25},{"x":874,"y":-0.382},{"x":879,"y":-0.213},{"x":885,"y":-0.138},{"x":890,"y":-0.063},{"x":894,"y":-0.12},{"x":900,"y":0.099},{"x":904,"y":-0.025},{"x":908,"y":-0.044},{"x":913,"y":-0.007},{"x":917,"y":-0.1},{"x":920,"y":0.012},{"x":925,"y":0.02},{"x":929,"y":-0.007},{"x":932,"y":0.012},{"x":936,"y":-0.08},{"x":939,"y":-0.194},{"x":943,"y":-0.23},{"x":947,"y":-0.324},{"x":953,"y":-0.176},{"x":957,"y":-0.138},{"x":961,"y":-0.176},{"x":965,"y":-0.12},{"x":969,"y":-0.138},{"x":972,"y":0.012},{"x":978,"y":0.134},{"x":984,"y":0.106},{"x":987,"y":-0.025},{"x":991,"y":-0.213},{"x":995,"y":-0.33},{"x":999,"y":-0.29},{"x":1002,"y":-0.232},{"x":1006,"y":-0.29},{"x":1009,"y":-0.232},{"x":1013,"y":-0.27},{"x":1016,"y":-0.194},{"x":1024,"y":-0.176},{"x":1028,"y":-0.213},{"x":1031,"y":-0.138},{"x":1035,"y":-0.194},{"x":1039,"y":-0.1},{"x":1043,"y":-0.063},{"x":1046,"y":-0.025},{"x":1050,"y":-0.044},{"x":1054,"y":-0.072},{"x":1058,"y":-0.053},{"x":1061,"y":-0.063},{"x":1065,"y":-0.195},{"x":1068,"y":0.05},{"x":1072,"y":0.2},{"x":1076,"y":0.29},{"x":1079,"y":0.163},{"x":1083,"y":-0.063},{"x":1087,"y":-0.21},{"x":1090,"y":-0.21},{"x":1094,"y":-0.12},{"x":1098,"y":-0.063},{"x":1101,"y":0.012},{"x":1105,"y":0.078},{"x":1109,"y":-0.025},{"x":1112,"y":-0.1},{"x":1116,"y":-0.025},{"x":1120,"y":0.031},{"x":1123,"y":0.087},{"x":1127,"y":-0.063},{"x":1131,"y":-0.213},{"x":1135,"y":-0.37},{"x":1138,"y":-0.176},{"x":1142,"y":-0.1},{"x":1145,"y":-0.063},{"x":1149,"y":-0.025},{"x":1153,"y":-0.176},{"x":1156,"y":-0.288},{"x":1160,"y":-0.42},{"x":1164,"y":-0.25},{"x":1167,"y":-0.025},{"x":1171,"y":0.35},{"x":1175,"y":0.725},{"x":1179,"y":0.857},{"x":1182,"y":0.35},{"x":1186,"y":-0.4},{"x":1190,"y":-0.98},{"x":1193,"y":-0.59},{"x":1197,"y":-0.363},{"x":1201,"y":-0.326},{"x":1204,"y":-0.25},{"x":1208,"y":-0.213},{"x":1212,"y":-0.138},{"x":1215,"y":-0.176},{"x":1219,"y":-0.12},{"x":1222,"y":-0.213},{"x":1226,"y":-0.1},{"x":1230,"y":-0.063},{"x":1234,"y":-0.1},{"x":1237,"y":-0.025},{"x":1241,"y":-0.044},{"x":1244,"y":0.012},{"x":1248,"y":0.031},{"x":1252,"y":0.125},{"x":1255,"y":0.256},{"x":1259,"y":0.425},{"x":1263,"y":0.453},{"x":1266,"y":0.31},{"x":1268,"y":0.069},{"x":1271,"y":-0.307},{"x":1274,"y":-0.77},{"x":1277,"y":-0.495},{"x":1281,"y":-0.176},{"x":1285,"y":-0.025},{"x":1288,"y":0.03},{"x":1292,"y":-0.1},{"x":1296,"y":-0.213},{"x":1299,"y":-0.1},{"x":1303,"y":-0.044},{"x":1306,"y":-0.025},{"x":1310,"y":0.012},{"x":1314,"y":0.05},{"x":1317,"y":0.125},{"x":1321,"y":0.163},{"x":1325,"y":0.144},{"x":1328,"y":0.2},{"x":1332,"y":0.181},{"x":1336,"y":0.219},{"x":1339,"y":0.256},{"x":1343,"y":0.219},{"x":1347,"y":0.256},{"x":1350,"y":0.163},{"x":1354,"y":-0.063},{"x":1358,"y":-0.326},{"x":1362,"y":-0.25},{"x":1365,"y":-0.025},{"x":1369,"y":0.256},{"x":1372,"y":0.35},{"x":1376,"y":0.069},{"x":1380,"y":-0.307},{"x":1383,"y":-0.495},{"x":1386,"y":-0.52},{"x":1389,"y":-0.59},{"x":1392,"y":-0.55},{"x":1396,"y":-0.4},{"x":1399,"y":-0.25},{"x":1403,"y":-0.194},{"x":1406,"y":-0.213},{"x":1410,"y":-0.176},{"x":1414,"y":-0.213},{"x":1418,"y":-0.12},{"x":1421,"y":-0.25},{"x":1425,"y":-0.138},{"x":1428,"y":-0.063},{"x":1432,"y":-0.1},{"x":1436,"y":-0.025},{"x":1440,"y":-0.044},{"x":1443,"y":0.012},{"x":1447,"y":-0.007},{"x":1450,"y":0.068},{"x":1454,"y":0.05},{"x":1458,"y":0.078},{"x":1462,"y":-0.007},{"x":1465,"y":-0.025},{"x":1469,"y":-0.1},{"x":1473,"y":-0.27},{"x":1476,"y":-0.08},{"x":1480,"y":0.087},{"x":1482,"y":0.125},{"x":1485,"y":-0.025},{"x":1489,"y":-0.307},{"x":1492,"y":-0.467},{"x":1494,"y":-0.325},{"x":1498,"y":-0.213},{"x":1502,"y":-0.138},{"x":1506,"y":-0.176},{"x":1509,"y":-0.12},{"x":1513,"y":-0.157},{"x":1517,"y":-0.044},{"x":1521,"y":0.05},{"x":1524,"y":0.163},{"x":1527,"y":0.219},{"x":1530,"y":0.05},{"x":1533,"y":-0.12},{"x":1536,"y":-0.25},{"x":1539,"y":-0.297},{"x":1543,"y":-0.325},{"x":1547,"y":-0.213},{"x":1550,"y":-0.194},{"x":1554,"y":-0.232},{"x":1558,"y":-0.157},{"x":1561,"y":-0.176},{"x":1565,"y":-0.1},{"x":1569,"y":-0.12},{"x":1572,"y":-0.063},{"x":1576,"y":-0.1},{"x":1580,"y":-0.044},{"x":1583,"y":-0.12},{"x":1587,"y":-0.063},{"x":1591,"y":-0.1},{"x":1594,"y":-0.025},{"x":1598,"y":-0.176},{"x":1602,"y":-0.138},{"x":1605,"y":-0.063},{"x":1609,"y":-0.1},{"x":1613,"y":-0.213},{"x":1616,"y":-0.138},{"x":1620,"y":-0.025},{"x":1624,"y":-0.1},{"x":1627,"y":-0.063},{"x":1631,"y":0.06},{"x":1635,"y":-0.063},{"x":1638,"y":-0.194},{"x":1642,"y":-0.1},{"x":1646,"y":0.012},{"x":1649,"y":-0.063},{"x":1653,"y":-0.176},{"x":1657,"y":-0.12},{"x":1660,"y":-0.176},{"x":1664,"y":-0.1},{"x":1668,"y":-0.213},{"x":1671,"y":-0.138},{"x":1675,"y":-0.232},{"x":1679,"y":-0.176},{"x":1682,"y":-0.081},{"x":1686,"y":-0.138},{"x":1690,"y":-0.1},{"x":1693,"y":-0.025},{"x":1698,"y":0.022},{"x":1701,"y":-0.081},{"x":1705,"y":-0.157},{"x":1708,"y":-0.194},{"x":1712,"y":-0.138},{"x":1716,"y":-0.1},{"x":1719,"y":-0.025},{"x":1723,"y":-0.1},{"x":1727,"y":-0.176},{"x":1730,"y":-0.213},{"x":1734,"y":-0.1},{"x":1738,"y":0.012},{"x":1741,"y":0.04},{"x":1744,"y":-0.063},{"x":1747,"y":-0.213},{"x":1750,"y":-0.344},{"x":1753,"y":-0.213},{"x":1757,"y":-0.1},{"x":1761,"y":-0.063},{"x":1765,"y":-0.157},{"x":1768,"y":-0.1},{"x":1772,"y":-0.025},{"x":1776,"y":-0.063},{"x":1780,"y":-0.025},{"x":1782,"y":0.05},{"x":1785,"y":-0.063},{"x":1789,"y":-0.213},{"x":1793,"y":-0.38},{"x":1797,"y":-0.213},{"x":1801,"y":-0.1},{"x":1804,"y":-0.138},{"x":1808,"y":-0.081},{"x":1812,"y":-0.194},{"x":1815,"y":-0.1},{"x":1819,"y":-0.213},{"x":1823,"y":-0.119},{"x":1826,"y":-0.063},{"x":1830,"y":-0.025},{"x":1834,"y":-0.1},{"x":1837,"y":-0.176},{"x":1841,"y":-0.194},{"x":1844,"y":-0.288},{"x":1848,"y":-0.12},{"x":1852,"y":0.16},{"x":1854,"y":0.425}
    ]
  },
  "concat": [
    {
      "width": 634,
      "height": 352,
      "title": {"text": "A", "anchor": "start", "frame": "group", "dx": -114, "offset": -8, "fontSize": 20, "fontWeight": "bold", "font": "Liberation Sans", "color": "#000000"},
      "layer": [
        {
          "data": {"name": "a"},
          "transform": [{"fold": ["b1", "o2", "y1", "p", "g", "lb", "dr", "b2", "o1", "y2"], "as": ["series", "intensity"]}],
          "mark": {"type": "line", "strokeWidth": 1, "clip": true},
          "encoding": {
            "x": {"field": "x", "type": "quantitative", "scale": {"domain": [482, 1855], "nice": false, "zero": false},
                  "axis": {"orient": "bottom", "title": "Raman Shift (cm-1)", "values": [600, 800, 1000, 1200, 1400, 1600, 1800], "format": "d", "labelPadding": 8, "titlePadding": 10, "labelOverlap": false}},
            "y": {"field": "intensity", "type": "quantitative", "scale": {"domain": [0.2, 0.6], "nice": false, "zero": false},
                  "axis": {"orient": "left", "title": "Intensity (a.u.)", "values": [0.2, 0.25, 0.3, 0.35, 0.4, 0.45, 0.5, 0.55, 0.6], "format": ".2~f", "labelPadding": 13, "titlePadding": 7, "labelOverlap": false}},
            "color": {"field": "series", "type": "nominal", "legend": null,
                      "scale": {"domain": ["b1", "o2", "y1", "p", "g", "lb", "dr", "b2", "o1", "y2"],
                                "range": ["#0072BD", "#D95319", "#EDB120", "#7E2F8E", "#77AC30", "#4DBEEE", "#A2142F", "#0072BD", "#D95319", "#EDB120"]}}
          }
        },
        {
          "data": {"name": "a"},
          "mark": {"type": "point", "opacity": 0},
          "encoding": {
            "x": {"field": "x", "type": "quantitative", "axis": {"orient": "top", "labels": false, "title": null, "values": [600, 800, 1000, 1200, 1400, 1600, 1800]}},
            "y": {"field": "p", "type": "quantitative", "axis": {"orient": "right", "labels": false, "title": null, "values": [0.2, 0.25, 0.3, 0.35, 0.4, 0.45, 0.5, 0.55, 0.6]}}
          }
        }
      ],
      "resolve": {"axis": {"x": "independent", "y": "independent"}}
    },
    {
      "width": 635,
      "height": 355,
      "title": {"text": "B", "anchor": "start", "frame": "group", "dx": -110, "offset": -12, "fontSize": 20, "fontWeight": "bold", "font": "Liberation Sans", "color": "#000000"},
      "layer": [
        {
          "layer": [
            {
              "data": {"name": "metro"},
              "mark": {"type": "line", "strokeWidth": 1.2, "clip": true},
              "encoding": {
                "x": {"field": "x", "type": "quantitative", "scale": {"domain": [463, 1854], "nice": false, "zero": false},
                      "axis": {"orient": "bottom", "title": "Raman shift (cm-1)", "values": [600, 800, 1000, 1200, 1400, 1600, 1800], "format": "d", "labelPadding": 14, "titlePadding": 8, "labelOverlap": false}},
                "y": {"field": "y", "type": "quantitative", "scale": {"domain": [-1, 1], "nice": false, "zero": false},
                      "axis": {"orient": "left", "title": "Normalized intensity (a.u.)", "values": [-1, -0.8, -0.6, -0.4, -0.2, 0, 0.2, 0.4, 0.6, 0.8, 1], "format": ".1~f", "labelExpr": "replace(datum.label, '\u2212', '-')", "labelPadding": 13, "titlePadding": 4, "labelOverlap": false}},
                "color": {"datum": "metronidazole", "type": "nominal",
                          "scale": {"domain": ["metronidazole", "Sample D"], "range": ["#0072BD", "#D95319"]},
                          "legend": {"orient": "top-right", "offset": 13, "title": null, "labelFontSize": 14, "labelFont": "Liberation Sans", "labelColor": "#000000", "symbolStrokeWidth": 1.2, "symbolSize": 196, "symbolType": "M-3,0L3,0", "symbolOffset": 14, "labelOffset": 22, "padding": 4, "strokeColor": "#333333", "fillColor": "#ffffff", "rowPadding": 6}}
              }
            },
            {
              "data": {"name": "sampled"},
              "mark": {"type": "line", "strokeWidth": 1.2, "clip": true},
              "encoding": {
                "x": {"field": "x", "type": "quantitative", "axis": {"orient": "bottom", "title": "Raman shift (cm-1)", "values": [600, 800, 1000, 1200, 1400, 1600, 1800], "format": "d", "labelPadding": 14, "titlePadding": 8, "labelOverlap": false}},
                "y": {"field": "y", "type": "quantitative", "axis": {"orient": "left", "title": "Normalized intensity (a.u.)", "values": [-1, -0.8, -0.6, -0.4, -0.2, 0, 0.2, 0.4, 0.6, 0.8, 1], "format": ".1~f", "labelExpr": "replace(datum.label, '\u2212', '-')", "labelPadding": 13, "titlePadding": 4, "labelOverlap": false}},
                "color": {"datum": "Sample D", "type": "nominal"}
              }
            }
          ]
        },
        {
          "data": {"name": "sampled"},
          "mark": {"type": "point", "opacity": 0},
          "encoding": {
            "x": {"field": "x", "type": "quantitative", "axis": {"orient": "top", "labels": false, "title": null, "values": [600, 800, 1000, 1200, 1400, 1600, 1800]}},
            "y": {"field": "y", "type": "quantitative", "axis": {"orient": "right", "labels": false, "title": null, "values": [-1, -0.8, -0.6, -0.4, -0.2, 0, 0.2, 0.4, 0.6, 0.8, 1]}}
          }
        }
      ],
      "resolve": {"axis": {"x": "independent", "y": "independent"}}
    }
  ]
}
